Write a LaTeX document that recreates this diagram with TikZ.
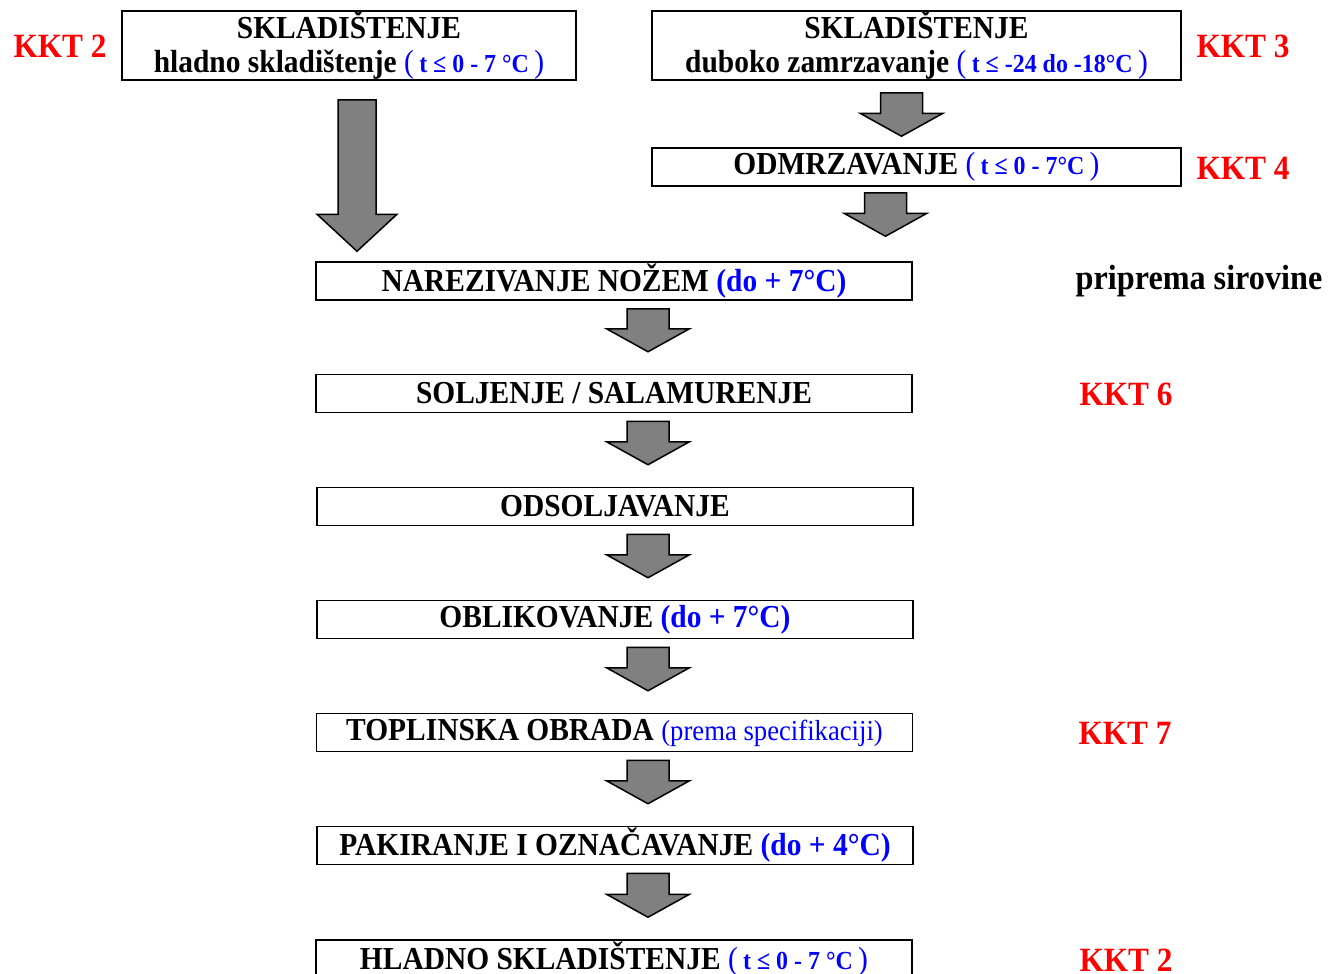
\documentclass[tikz,border=0pt]{standalone}
\usepackage{fontspec}
\setmainfont{Liberation Serif}[FakeStretch=0.92]
\usetikzlibrary{calc}
\definecolor{arrowgray}{HTML}{808080}
\definecolor{kktred}{HTML}{FF0000}
\definecolor{tempblue}{HTML}{0000FF}
\newcommand{\shaftw}{21}
\newcommand{\headw}{41.5}
\newcommand{\headlen}{23}
% block arrow from top centre #1 down to the tip level #2
\newcommand{\flowarrow}[2]{%
  \path[blockarrow] let \p1=(#1), \p2=(#2), \p3=($(\p2)+(0,-\headlen)$) in
    (\x1-\shaftw pt,\y1) -- (\x1+\shaftw pt,\y1) -- (\x1+\shaftw pt,\y3) -- (\x1+\headw pt,\y3)
    -- (\x1,\y2) -- (\x1-\headw pt,\y3) -- (\x1-\shaftw pt,\y3) -- cycle;}
\newcommand{\temp}[1]{{\color{tempblue}{\mdseries(}\,{\fontsize{26}{28}\selectfont #1}\,{\mdseries)}}}
\begin{document}
\begin{tikzpicture}
  [x=1pt,y=-1pt,
   box/.style={draw,line width=1.5pt,inner sep=0pt,minimum height=38,align=center,
     font=\fontsize{32}{34}\selectfont\bfseries},
   kkt/.style={text=kktred,font=\fontsize{34}{36}\selectfont\bfseries},
   blockarrow/.style={draw,line width=1.5pt,fill=arrowgray,line join=miter}]
  \useasboundingbox (0,0) rectangle (1341,974);
  % storage
  \node[box,minimum width=454,minimum height=69] (hlad) at (349,45.5)
    {SKLADIŠTENJE\\hladno skladištenje \temp{t ≤ 0 - 7 °C}};
  \node[box,minimum width=529,minimum height=69] (zamr) at (916.5,45.5)
    {SKLADIŠTENJE\\duboko zamrzavanje \temp{t ≤ -24 do -18°C}};
  \node[box,minimum width=529] (odmr) at (916.5,167) {ODMRZAVANJE \temp{t ≤ 0 - 7°C}};
  % main line
  \node[box,minimum width=596] (nar) at (614,281)
    {NAREZIVANJE NOŽEM {\color{tempblue}(do + 7°C)}};
  \node[box,minimum width=596] (sol) at (614,393.5) {SOLJENJE / SALAMURENJE};
  \node[box,minimum width=596] (odsol) at (615,506.5) {ODSOLJAVANJE};
  \node[box,minimum width=596] (obl) at (615,619.5)
    {OBLIKOVANJE {\color{tempblue}(do + 7°C)}};
  \node[box,minimum width=596] (topl) at (614.5,732.5)
    {TOPLINSKA OBRADA {\color{tempblue}\mdseries\fontsize{29}{30}\selectfont(prema specifikaciji)}};
  \node[box,minimum width=596] (pak) at (615,845.5)
    {PAKIRANJE I OZNAČAVANJE {\color{tempblue}(do + 4°C)}};
  \node[box,minimum width=596] (skl) at (614,959)
    {HLADNO SKLADIŠTENJE \temp{t ≤ 0 - 7 °C}};
  % labels
  \node[kkt] (k2a) at (60,46) {KKT 2};
  \node[kkt] (k3) at (1243,46) {KKT 3};
  \node[kkt] (k4) at (1243,168) {KKT 4};
  \node[font=\fontsize{35}{36}\selectfont\bfseries] (prip) at (1199,281) {priprema sirovine};
  \node[kkt] (k6) at (1126,394) {KKT 6};
  \node[kkt] (k7) at (1125,733) {KKT 7};
  \node[kkt] (k2b) at (1126,960) {KKT 2};
  % arrows
  \flowarrow{$(zamr.south)+(-15,12)$}{$(odmr.north)+(0,-11)$}
  \flowarrow{$(odmr.south)+(-31,6)$}{$(nar.north)+(0,-25)$}
  {\renewcommand{\shaftw}{19}\renewcommand{\headw}{40}\renewcommand{\headlen}{37}
   \flowarrow{$(hlad.south)+(8,19)$}{$(nar.north)+(0,-10)$}}
  \flowarrow{$(nar.south)+(34,8)$}{$(sol.north)+(0,-22)$}
  \flowarrow{$(sol.south)+(34,8)$}{$(odsol.north)+(0,-22)$}
  \flowarrow{$(odsol.south)+(33,8)$}{$(obl.north)+(0,-22)$}
  \flowarrow{$(obl.south)+(33,8)$}{$(topl.north)+(0,-22)$}
  \flowarrow{$(topl.south)+(33.5,8)$}{$(pak.north)+(0,-22)$}
  \flowarrow{$(pak.south)+(33,8)$}{$(skl.north)+(0,-22)$}
\end{tikzpicture}
\end{document}
